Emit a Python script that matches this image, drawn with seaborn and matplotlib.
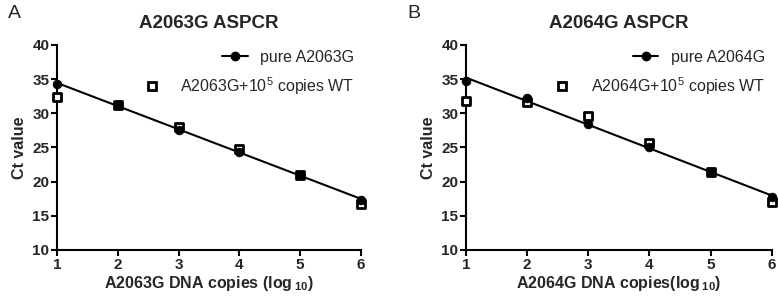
import numpy as np
import pandas as pd
import matplotlib
matplotlib.use('Agg')
import matplotlib.pyplot as plt
import seaborn as sns
from matplotlib.lines import Line2D

sns.set_style('ticks')
plt.rcParams['font.family'] = ['Liberation Sans', 'DejaVu Sans']
plt.rcParams['mathtext.default'] = 'regular'

log_copies = [1, 2, 3, 4, 5, 6]

# panel A
a_pure = [34.3, 31.2, 27.6, 24.4, 21.0, 17.3]
a_wt = [32.4, 31.2, 28.0, 24.8, 21.0, 16.7]
# panel B
b_pure = [34.8, 32.2, 28.4, 25.0, 21.4, 17.8]
b_wt = [31.8, 31.7, 29.6, 25.7, 21.4, 17.0]

panels = [
    ('A', 'A2063G ASPCR', 'A2063G', a_pure, a_wt, 'A2063G DNA copies (log$\\,_{10}$)'),
    ('B', 'A2064G ASPCR', 'A2064G', b_pure, b_wt, 'A2064G DNA copies(log$\\,_{10}$)'),
]
yticks = [10, 15, 20, 25, 30, 35, 40]

fig = plt.figure(figsize=(7.78, 2.99), dpi=100)
ax_pos = [[0.0733, 0.1639, 0.3907, 0.6856], [0.599, 0.1639, 0.393, 0.6856]]
letter_x = [0.010, 0.524]

for i, (letter, title, mut, pure, wt, xlab) in enumerate(panels):
    ax = fig.add_axes(ax_pos[i])
    df = pd.DataFrame({'x': log_copies, 'pure': pure, 'wt': wt})

    # linear fit through the pure mutant points
    k, b = np.polyfit(df.x, df.pure, 1)
    df['fit'] = k * df.x + b
    sns.lineplot(data=df, x='x', y='fit', ax=ax, color='k', lw=1.5, clip_on=False)
    sns.scatterplot(data=df, x='x', y='wt', ax=ax, marker='s', s=36,
                    facecolor='white', edgecolor='k', linewidth=2.0, clip_on=False, zorder=3)
    sns.scatterplot(data=df, x='x', y='pure', ax=ax, marker='o', s=40,
                    color='k', edgecolor='k', clip_on=False, zorder=4)

    ax.set_xlim(1, 6)
    ax.set_ylim(10, 40)
    ax.set_xticks(log_copies)
    ax.set_yticks(yticks)
    for lab in ax.get_xticklabels() + ax.get_yticklabels():
        lab.set_fontweight('bold')
        lab.set_fontsize(11)
    ax.tick_params(direction='out', length=4, width=1.5, pad=1.5, color='k')
    for s in ['left', 'bottom']:
        ax.spines[s].set_linewidth(1.5)
        ax.spines[s].set_color('k')
    sns.despine(ax=ax)

    ax.set_xlabel(xlab, fontsize=11.5, fontweight='bold', labelpad=2)
    ax.set_ylabel('Ct value', fontsize=11.5, fontweight='bold', labelpad=4)
    ax.set_title(title, fontsize=13.5, fontweight='bold', pad=12)

    h1 = Line2D([], [], color='k', lw=1.5, marker='o', markersize=6)
    h2 = Line2D([], [], color='k', lw=0, marker='s', markersize=6,
                markerfacecolor='white', markeredgewidth=2.0)
    leg1 = ax.legend([h1], ['pure ' + mut], loc='center right',
                     bbox_to_anchor=(1.0, 0.94), frameon=False, fontsize=11.5,
                     handlelength=1.6, handletextpad=0.8, borderaxespad=0)
    ax.add_artist(leg1)
    ax.legend([h2], [mut + '+10$^5$ copies WT'], loc='center right',
              bbox_to_anchor=(1.0, 0.80), frameon=False, fontsize=11.5,
              handlelength=1.0, handletextpad=1.3, borderaxespad=0)

    fig.text(letter_x[i], 0.955, letter, fontsize=14, va='center', ha='left')

fig.savefig('out.png', dpi=100)
